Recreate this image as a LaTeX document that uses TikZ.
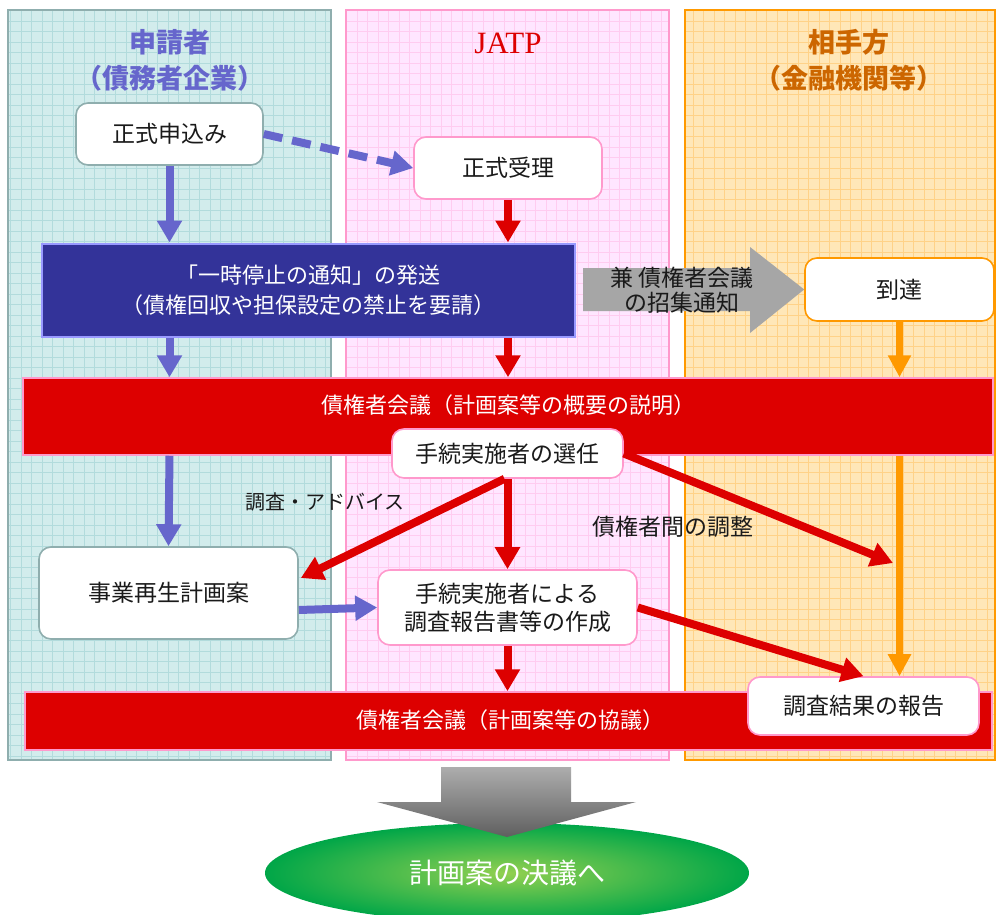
\documentclass[tikz,border=0pt]{standalone}
\usepackage{fontspec}
\usetikzlibrary{arrows.meta,calc,shapes.geometric}
\newfontfamily\jp{Noto Sans CJK JP}
\newfontfamily\latserif{Liberation Serif}
\definecolor{laneAfill}{HTML}{D2ECEC}
\definecolor{laneAgrid}{HTML}{B2DBDC}
\definecolor{laneAline}{HTML}{8FAEAE}
\definecolor{laneBfill}{HTML}{FFE6FF}
\definecolor{laneBgrid}{HTML}{FFCCF0}
\definecolor{laneBline}{HTML}{FF99CC}
\definecolor{laneCfill}{HTML}{FFE7B8}
\definecolor{laneCgrid}{HTML}{FFD288}
\definecolor{laneCline}{HTML}{FF9900}
\definecolor{blueA}{HTML}{6666CC}
\definecolor{redA}{HTML}{DD0000}
\definecolor{orangeA}{HTML}{FF9900}
\definecolor{navyA}{HTML}{333399}
\definecolor{navyLine}{HTML}{9999FF}
\definecolor{titleC}{HTML}{CC6600}
\definecolor{grayA}{HTML}{A6A6A6}
\definecolor{grayTop}{HTML}{ADADAD}
\definecolor{grayBot}{HTML}{5F5F5F}
\definecolor{greenIn}{HTML}{92D050}
\definecolor{greenOut}{HTML}{00A648}
\definecolor{txt}{HTML}{1A1A1A}
\begin{document}
\begin{tikzpicture}[x=1pt,y=-1pt,
  box/.style={rectangle, rounded corners=12pt, fill=white, line width=1.6pt,
    font=\jp\fontsize{23}{28}\selectfont, align=center, text=txt, inner sep=0pt},
  tealbox/.style={box, draw=laneAline},
  pinkbox/.style={box, draw=laneBline},
  orangebox/.style={box, draw=laneCline},
  bar/.style={rectangle, fill=redA, draw=laneBline, line width=1.5pt, inner sep=0pt},
  bartext/.style={font=\jp\fontsize{22}{28}\selectfont, text=white},
  lbl/.style={font=\jp\fontsize{22}{26}\selectfont, text=txt, align=center},
  barr/.style={draw=blueA, line width=8pt, -{Triangle[width=24pt,length=22pt]}},
  rarr/.style={draw=redA, line width=8pt, -{Triangle[width=24pt,length=22pt]}},
  oarr/.style={draw=orangeA, line width=7pt, -{Triangle[width=22pt,length=22pt]}},
  dasharr/.style={draw=blueA, line width=8pt, dash pattern=on 19pt off 10pt, -{Triangle[width=24pt,length=22pt]}},
  lanetitle/.style={font=\jp\bfseries\fontsize{27}{36}\selectfont, align=center}
]
\useasboundingbox (0,0) rectangle (996,915);

% lanes
\fill[laneAfill] (8,10) rectangle (331,760);
\begin{scope}
  \clip (8,10) rectangle (331,760);
  \draw[laneAgrid, line width=0.7pt, step=10.5pt] (8,760) grid (331,10);
\end{scope}
\draw[laneAline, line width=1.5pt] (8,10) rectangle (331,760);

\fill[laneBfill] (346,10) rectangle (669,760);
\begin{scope}
  \clip (346,10) rectangle (669,760);
  \draw[laneBgrid, line width=0.7pt, step=10.5pt] (346,760) grid (669,10);
\end{scope}
\draw[laneBline, line width=1.5pt] (346,10) rectangle (669,760);

\fill[laneCfill] (685,10) rectangle (995,760);
\begin{scope}
  \clip (685,10) rectangle (995,760);
  \draw[laneCgrid, line width=0.7pt, step=10.5pt] (685,760) grid (995,10);
\end{scope}
\draw[laneCline, line width=1.5pt] (685,10) rectangle (995,760);

% titles
\node[lanetitle, text=blueA] (tA) at (170,60) {申請者\\（債務者企業）};
\node[font=\latserif\fontsize{31}{34}\selectfont, text=redA] (tB) at (508,43) {JATP};
\node[lanetitle, text=titleC] (tC) at (849,60) {相手方\\（金融機関等）};

% boxes
\node[tealbox, minimum width=187pt, minimum height=62pt] (apply) at (169.5,134) {正式申込み};
\node[pinkbox, minimum width=188pt, minimum height=62pt] (accept) at (508,168) {正式受理};
\node[rectangle, fill=navyA, draw=navyLine, line width=2pt, minimum width=533pt, minimum height=93pt,
  font=\jp\fontsize{22}{30}\selectfont, text=white, align=center, inner sep=0pt] (notice) at (308.5,290)
  {「一時停止の通知」の発送\\（債権回収や担保設定の禁止を要請）};
\node[orangebox, minimum width=189pt, minimum height=63pt] (arrive) at (899.5,289.5) {到達};

% gray block arrow
\fill[grayA] (583,268) -- (750,268) -- (750,247) -- (arrive.west) -- (750,333) -- (750,311) -- (583,311) -- cycle;
\node[lbl, font=\jp\fontsize{23}{25}\selectfont] (notify) at (682,290) {兼 債権者会議\\の招集通知};

% meeting bars
\node[bar, minimum width=970pt, minimum height=77pt] (meet1) at (508,416.5) {};
\node[bartext] (meet1t) at (508,405) {債権者会議（計画案等の概要の説明）};
\node[bar, minimum width=967pt, minimum height=58pt] (meet2) at (508.5,721) {};
\node[bartext] (meet2t) at (510,720) {債権者会議（計画案等の協議）};

\node[pinkbox, minimum width=231pt, minimum height=49pt] (select) at (507.5,453.5) {手続実施者の選任};
\node[tealbox, minimum width=259pt, minimum height=92pt] (plan) at (168.5,593) {事業再生計画案};
\node[pinkbox, minimum width=259pt, minimum height=75pt] (report) at (507.5,607.5) {手続実施者による\\調査報告書等の作成};
\node[pinkbox, minimum width=231pt, minimum height=58pt] (result) at (863.5,706) {調査結果の報告};

% arrows
\draw[barr] (apply.south) -- (apply.south |- notice.north);
\draw[dasharr] (apply.east) -- (accept.west);
\draw[rarr] (accept.south) -- (accept.south |- notice.north);
\draw[barr] (apply.south |- notice.south) -- (apply.south |- meet1.north);
\draw[rarr] (accept.south |- notice.south) -- (accept.south |- meet1.north);
\draw[oarr] (arrive.south) -- (arrive.south |- meet1.north);
\draw[barr] (apply.south |- meet1.south) -- (plan.north);
\draw[oarr] (arrive.south |- meet1.south) -- (arrive.south |- result.north);
\draw[rarr] (select.south) -- (report.north);
\draw[rarr] ($(select.south)+(-3,0)$) -- ($(plan.east)+(2,-15)$);
\coordinate (adjEnd) at (893,563);
\draw[rarr] (select.east) -- (adjEnd);
\draw[rarr] (report.east) -- (result.north);
\draw[barr] ($(plan.east)+(0,17)$) -- (report.west);
\draw[rarr] (report.south) -- (report.south |- meet2.north);

\node[lbl, font=\jp\fontsize{20}{24}\selectfont] (advice) at (325,502) {調査・アドバイス};
\node[lbl, font=\jp\fontsize{23}{26}\selectfont] (adjust) at (673,527) {債権者間の調整};

% final
\node[ellipse, inner color=greenIn, outer color=greenOut, minimum width=484pt, minimum height=100pt,
  font=\jp\fontsize{28}{32}\selectfont, text=white] (final) at (507,873) {};
\shade[top color=grayTop, bottom color=grayBot] (441,767) -- (571,767) -- (571,802) -- (636,802) -- (final.north |- 0,837) -- (377,802) -- (441,802) -- cycle;
\node[font=\jp\fontsize{28}{32}\selectfont, text=white] (finalt) at (507,873) {計画案の決議へ};
\end{tikzpicture}
\end{document}
